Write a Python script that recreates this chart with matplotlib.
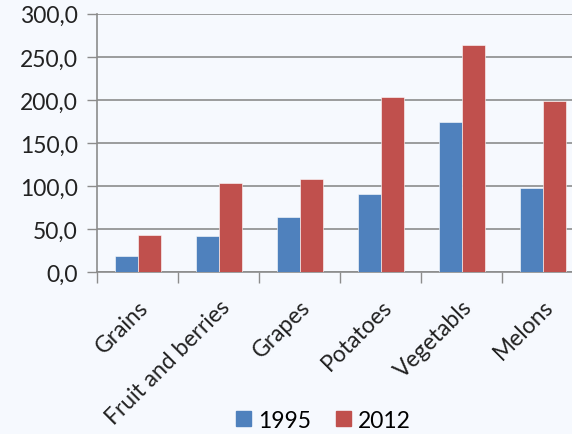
import matplotlib.pyplot as plt
import numpy as np
from matplotlib.patches import Patch

categories = ["Grains", "Fruit and berries", "Grapes", "Potatoes", "Vegetabls", "Melons"]
values_1995 = [18.6, 42.2, 64.6, 91.3, 174.9, 97.5]
values_2012 = [43.7, 103.4, 108.0, 203.2, 264.3, 199.3]
series_names = ["1995", "2012"]
y_ticks = [0, 50, 100, 150, 200, 250, 300]

BLUE = "#4F81BD"
RED = "#C0504D"
BG = "#F6F9FE"

plt.rcParams["font.family"] = ["Lato", "DejaVu Sans"]

fig = plt.figure(figsize=(5.72, 4.35), dpi=100, facecolor=BG)
# axes run past the right edge, like the cropped original
ax = fig.add_axes([0.170, 0.372, 0.850, 0.594], facecolor=BG)

x = np.arange(len(categories))
w = 1 / 3.5
ax.bar(x - w / 2, values_1995, w, color=BLUE, edgecolor="white", linewidth=0.4, zorder=3)
ax.bar(x + w / 2, values_2012, w, color=RED, edgecolor="white", linewidth=0.4, zorder=3)

ax.set_xlim(-0.5, len(categories) - 0.5)
ax.set_ylim(0, 300)
ax.set_yticks(y_ticks)
ax.set_yticklabels([f"{v:.1f}".replace(".", ",") for v in y_ticks], fontsize=16.5, color="#222222")
ax.yaxis.grid(True, color="#8C8C8C", linewidth=1.2, zorder=0)

ax.set_xticks(x)
ax.set_xticklabels(categories, rotation=45, ha="right", rotation_mode="anchor",
                   fontsize=16.5, color="#222222")
ax.set_xticks(np.arange(len(categories) + 1) - 0.5, minor=True)
ax.tick_params(axis="x", which="major", length=0, pad=17)
ax.tick_params(axis="x", which="minor", length=8, width=1, color="#8C8C8C")
ax.tick_params(axis="y", length=7, width=1, color="#8C8C8C", pad=7)

for side in ["top", "right"]:
    ax.spines[side].set_visible(False)
for side in ["left", "bottom"]:
    ax.spines[side].set_color("#8C8C8C")
    ax.spines[side].set_linewidth(1.2)

handles = [Patch(color=BLUE), Patch(color=RED)]
fig.legend(handles, series_names, loc="center", bbox_to_anchor=(0.565, 0.032), ncol=2,
           frameon=False, fontsize=16.5, handlelength=0.65, handleheight=0.65,
           handletextpad=0.3, columnspacing=1.1)

fig.savefig("out.png", dpi=100, facecolor=BG)
